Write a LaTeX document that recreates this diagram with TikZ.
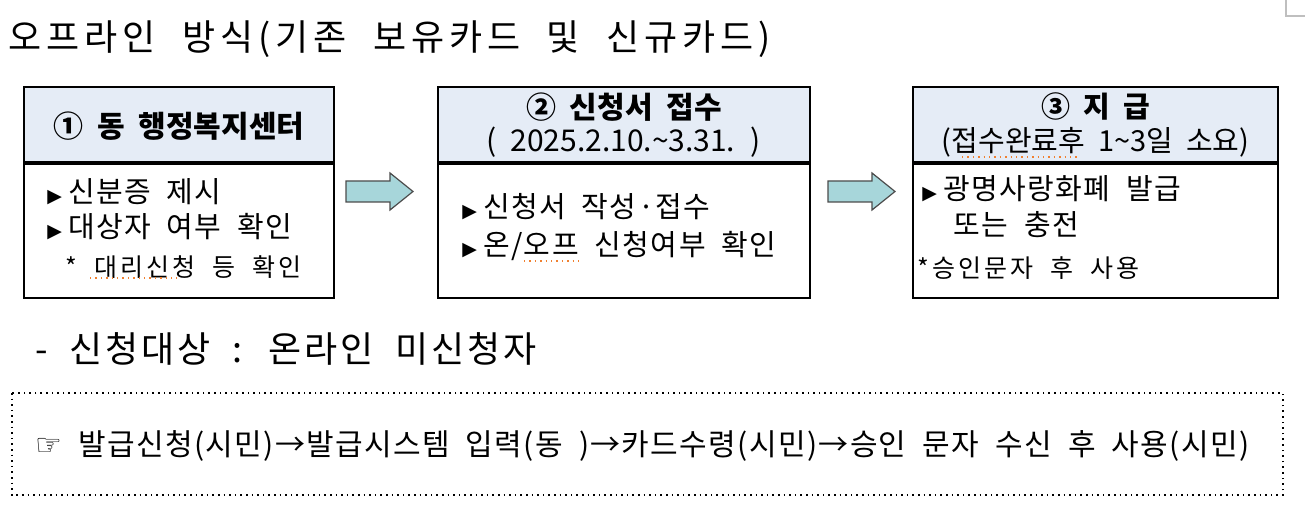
\documentclass[tikz,border=0pt]{standalone}
\usepackage{fontspec}
\setmainfont{Noto Sans CJK KR}[WordSpace=2]
\newfontfamily\symfont{DejaVu Sans}
\usetikzlibrary{positioning}
\definecolor{headblue}{HTML}{E5ECF6}
\definecolor{arrowteal}{HTML}{A7D6DA}
\definecolor{spellred}{HTML}{F08030}

\tikzset{
  headbox/.style={draw, line width=1pt, fill=headblue, inner sep=0pt},
  bodybox/.style={draw, line width=1pt, inner sep=0pt},
  blockarrow/.style={draw=gray!60!black, line width=0.6pt, fill=arrowteal},
  linetext/.style={anchor=base west, inner sep=0pt},
  midtext/.style={anchor=base, inner sep=0pt},
  spellmark/.style={spellred, line width=0.7pt, dotted},
}
\newcommand{\tri}{{\symfont\fontsize{9.5}{10}\selectfont ▶}\hspace{3pt}}
\newcommand{\bigtxt}{\fontsize{18}{20}\selectfont\addfontfeatures{LetterSpace=14}}
\newcommand{\headtxt}{\fontsize{15}{18}\selectfont}
\newcommand{\bodytxt}{\fontsize{14.5}{17}\selectfont\addfontfeatures{LetterSpace=5}}
\newcommand{\smalltxt}{\fontsize{12.5}{14}\selectfont\addfontfeatures{LetterSpace=12}}

\begin{document}
\begin{tikzpicture}[x=0.5pt, y=-0.5pt]
  \useasboundingbox (0,0) rectangle (1305,513);

  % page corner mark
  \draw[gray!50, line width=1.2pt] (1286,0) -- (1286,16) -- (1305,16);

  % title
  \node[linetext, font=\bigtxt] (title) at (8,51) {오프라인 방식(기존 보유카드 및 신규카드)};

  % step boxes
  \node[headbox, minimum width=155pt, minimum height=37.5pt] (head1) at (179,124.5) {};
  \node[bodybox, minimum width=155pt, minimum height=67pt, below=0pt of head1] (body1) {};
  \node[headbox, minimum width=186pt, minimum height=37.5pt] (head2) at (624,124.5) {};
  \node[bodybox, minimum width=186pt, minimum height=67pt, below=0pt of head2] (body2) {};
  \node[headbox, minimum width=182.5pt, minimum height=37.5pt] (head3) at (1095.5,124.5) {};
  \node[bodybox, minimum width=182.5pt, minimum height=67pt, below=0pt of head3] (body3) {};

  % block arrows between boxes
  \foreach \ax in {346,828}
    \draw[blockarrow] (\ax,181) -- ++(44,0) -- ++(0,-8) -- ++(23,18.5)
      -- ++(-23,18.5) -- ++(0,-8) -- ++(-44,0) -- cycle;

  % box 1
  \node[midtext, font=\headtxt\bfseries] (h1a) at (head1.center |- 0,138) {① 동 행정복지센터};
  \node[linetext, font=\bodytxt] (b1a) at (47,203) {\tri 신분증 제시};
  \node[linetext, font=\bodytxt] (b1b) at (47,238) {\tri 대상자 여부 확인};
  \node[linetext, font=\smalltxt] (b1c) at (65,276) {* 대리신청 등 확인};
  \draw[spellmark] (90,278) -- (177,278);

  % box 2
  \node[midtext, font=\headtxt\bfseries] (h2a) at (head2.center |- 0,119) {② 신청서 접수};
  \node[midtext, font=\headtxt] (h2b) at (head2.center |- 0,152) {( 2025.2.10.\textasciitilde3.31. )};
  \node[linetext, font=\bodytxt] (b2a) at (462,218) {\tri 신청서 작성·접수};
  \node[linetext, font=\bodytxt] (b2b) at (462,256) {\tri 온/오프 신청여부 확인};
  \draw[spellmark] (524,261) -- (579,261);

  % box 3
  \node[midtext, font=\fontsize{14.5}{18}\selectfont] (h3a) at (head3.center |- 0,118) {\bfseries ③ 지 급};
  \node[midtext, font=\fontsize{14.5}{18}\selectfont] (h3b) at (head3.center |- 0,152) {(접수완료후 1\textasciitilde3일 소요)};
  \node[linetext, font=\bodytxt] (b3a) at (922,200) {\tri 광명사랑화폐 발급};
  \node[linetext, font=\bodytxt] (b3b) at (953,235) {또는 충전};
  \node[linetext, font=\smalltxt] (b3c) at (917,278) {*승인문자 후 사용};
  \draw[spellmark] (962,157) -- (1078,157);

  % target line
  \node[linetext, font=\fontsize{18}{20}\selectfont\addfontfeatures{LetterSpace=8}] (target) at (35,362) {- 신청대상 : 온라인 미신청자};

  % dotted process box
  \draw[line width=0.8pt, dotted] (12,393) rectangle (1283,495);
  \node[linetext, font=\fontsize{15}{18}\selectfont\addfontfeatures{LetterSpace=4.5}] (flow) at (35,455)
    {{\symfont ☞} 발급신청(시민)→발급시스템 입력(동 )→카드수령(시민)→승인 문자 수신 후 사용(시민)};
\end{tikzpicture}
\end{document}
